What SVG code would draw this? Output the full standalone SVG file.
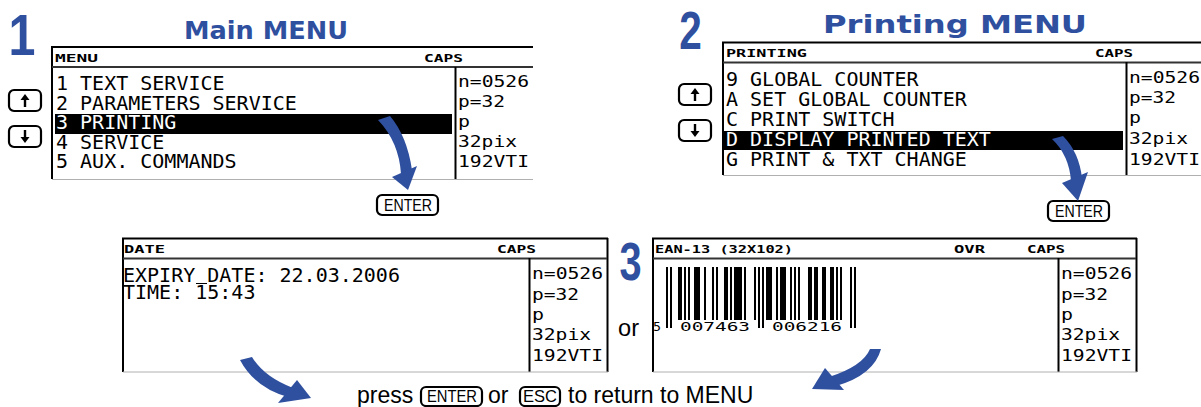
<svg xmlns="http://www.w3.org/2000/svg" xmlns:xlink="http://www.w3.org/1999/xlink" width="1201" height="407" viewBox="0 0 1201 407">
<style>
.ln{stroke:#000;stroke-width:2;fill:none}
.sep{stroke:#333;stroke-width:2;fill:none}
.bot{stroke:#b0b0b0;stroke-width:1;fill:none}
.lcd{font-family:"DejaVu Sans Mono",monospace;font-size:20px;fill:#000}
.inv{fill:#fff}
.side{font-family:"DejaVu Sans Mono",monospace;font-size:16px;fill:#000}
.hdr{font-family:"DejaVu Sans Mono",monospace;font-size:11px;font-weight:bold;fill:#000}
.bc{font-family:"DejaVu Sans Mono",monospace;font-size:12px;fill:#000}
.title{font-family:"DejaVu Sans",sans-serif;font-weight:bold;font-size:25px;fill:#2f4f9f}
.num{font-family:"Liberation Sans",sans-serif;font-weight:bold;fill:#2f4f9f}
.key{fill:#fff;stroke:#000;stroke-width:2.2}
.kt{font-family:"Liberation Sans",sans-serif;font-size:17px;fill:#000}
.foot{font-family:"Liberation Sans",sans-serif;font-size:23px;fill:#000}
.arr{fill:#2f4f9f}
</style>
<defs>
<g id="kUp"><rect class="key" x="0" y="0" width="32" height="21" rx="5"/><line x1="16" y1="17" x2="16" y2="8" stroke="#000" stroke-width="2.4"/><polygon points="11.5,10 20.5,10 16,4" fill="#000"/></g>
<g id="kDown"><rect class="key" x="0" y="0" width="32" height="21" rx="5"/><line x1="16" y1="4" x2="16" y2="13" stroke="#000" stroke-width="2.4"/><polygon points="11.5,11 20.5,11 16,17" fill="#000"/></g>
<g id="kEnter"><rect class="key" x="0" y="0" width="61" height="20" rx="5"/><text class="kt" x="7" y="16" textLength="48" lengthAdjust="spacingAndGlyphs">ENTER</text></g>
</defs>

<g id="title-main">
<text class="num" font-size="57" transform="translate(22,55) scale(0.85,1)" text-anchor="middle">1</text>
<text class="title" x="184" y="39" textLength="164" lengthAdjust="spacingAndGlyphs">Main MENU</text>
</g>

<g id="screen-main">
<line class="ln" x1="51" y1="47" x2="533" y2="47"/>
<line class="ln" x1="52" y1="46" x2="52" y2="179"/>
<line class="sep" x1="52" y1="67" x2="533" y2="67"/>
<line class="ln" x1="455.5" y1="67" x2="455.5" y2="179"/>
<line class="bot" x1="52" y1="179.5" x2="533" y2="179.5"/>
<text class="hdr" x="55" y="62" textLength="43" lengthAdjust="spacingAndGlyphs">MENU</text>
<text class="hdr" x="424" y="62" textLength="39" lengthAdjust="spacingAndGlyphs">CAPS</text>
<rect x="55" y="114" width="397" height="20" fill="#000"/>
<text class="lcd" x="56" y="90">1 TEXT SERVICE</text>
<text class="lcd" x="56" y="109.5">2 PARAMETERS SERVICE</text>
<text class="lcd inv" x="56" y="129">3 PRINTING</text>
<text class="lcd" x="56" y="148.5">4 SERVICE</text>
<text class="lcd" x="56" y="168">5 AUX. COMMANDS</text>
<text class="side" x="458" y="87" textLength="71" lengthAdjust="spacingAndGlyphs">n=0526</text>
<text class="side" x="458" y="107" textLength="47" lengthAdjust="spacingAndGlyphs">p=32</text>
<text class="side" x="458" y="127" textLength="12" lengthAdjust="spacingAndGlyphs">p</text>
<text class="side" x="458" y="147" textLength="59" lengthAdjust="spacingAndGlyphs">32pix</text>
<text class="side" x="458" y="167" textLength="71" lengthAdjust="spacingAndGlyphs">192VTI</text>
</g>

<g id="keys-main">
<use xlink:href="#kUp" x="9" y="90"/>
<use xlink:href="#kDown" x="9" y="126"/>
<use xlink:href="#kEnter" x="377" y="195"/>
</g>

<g id="title-printing">
<text class="num" font-size="54" transform="translate(690.5,49) scale(0.75,1)" text-anchor="middle">2</text>
<text class="title" x="823" y="33" textLength="264" lengthAdjust="spacingAndGlyphs">Printing MENU</text>
</g>

<g id="screen-printing">
<line class="ln" x1="722" y1="42.5" x2="1201" y2="42.5"/>
<line class="ln" x1="723" y1="42" x2="723" y2="175"/>
<line class="sep" x1="723" y1="62.5" x2="1201" y2="62.5"/>
<line class="ln" x1="1126.5" y1="62" x2="1126.5" y2="175"/>
<line class="bot" x1="723" y1="175.5" x2="1201" y2="175.5"/>
<text class="hdr" x="726" y="57" textLength="81" lengthAdjust="spacingAndGlyphs">PRINTING</text>
<text class="hdr" x="1095" y="57" textLength="38" lengthAdjust="spacingAndGlyphs">CAPS</text>
<rect x="724" y="131" width="399" height="19" fill="#000"/>
<text class="lcd" x="726" y="86">9 GLOBAL COUNTER</text>
<text class="lcd" x="726" y="106">A SET GLOBAL COUNTER</text>
<text class="lcd" x="726" y="126">C PRINT SWITCH</text>
<text class="lcd inv" x="726" y="146">D DISPLAY PRINTED TEXT</text>
<text class="lcd" x="726" y="166">G PRINT &amp; TXT CHANGE</text>
<text class="side" x="1129" y="83" textLength="71" lengthAdjust="spacingAndGlyphs">n=0526</text>
<text class="side" x="1129" y="103" textLength="47" lengthAdjust="spacingAndGlyphs">p=32</text>
<text class="side" x="1129" y="123" textLength="12" lengthAdjust="spacingAndGlyphs">p</text>
<text class="side" x="1129" y="144" textLength="59" lengthAdjust="spacingAndGlyphs">32pix</text>
<text class="side" x="1129" y="165" textLength="71" lengthAdjust="spacingAndGlyphs">192VTI</text>
</g>

<g id="keys-printing">
<use xlink:href="#kUp" x="679" y="84"/>
<use xlink:href="#kDown" x="679" y="120"/>
<use xlink:href="#kEnter" x="1048" y="201"/>
</g>

<g id="screen-date">
<line class="ln" x1="122" y1="238.5" x2="608" y2="238.5"/>
<line class="ln" x1="123" y1="238" x2="123" y2="372"/>
<line class="ln" x1="607.5" y1="238" x2="607.5" y2="372"/>
<line class="sep" x1="123" y1="258.5" x2="607" y2="258.5"/>
<line class="ln" x1="529.5" y1="258" x2="529.5" y2="372"/>
<line class="bot" x1="123" y1="372" x2="608" y2="372"/>
<text class="hdr" x="124" y="253" textLength="41" lengthAdjust="spacingAndGlyphs">DATE</text>
<text class="hdr" x="497" y="253" textLength="39" lengthAdjust="spacingAndGlyphs">CAPS</text>
<text class="lcd" x="123" y="282">EXPIRY DATE: 22.03.2006</text>
<line x1="196" y1="283.5" x2="207" y2="283.5" stroke="#000" stroke-width="1"/>
<text class="lcd" x="123" y="299">TIME: 15:43</text>
<text class="side" x="532" y="279" textLength="71" lengthAdjust="spacingAndGlyphs">n=0526</text>
<text class="side" x="532" y="300" textLength="47" lengthAdjust="spacingAndGlyphs">p=32</text>
<text class="side" x="532" y="320" textLength="12" lengthAdjust="spacingAndGlyphs">p</text>
<text class="side" x="532" y="340" textLength="59" lengthAdjust="spacingAndGlyphs">32pix</text>
<text class="side" x="532" y="361" textLength="71" lengthAdjust="spacingAndGlyphs">192VTI</text>
</g>

<g id="or-label">
<text class="num" font-size="53" transform="translate(630.5,280) scale(0.75,1)" text-anchor="middle">3</text>
<text class="foot" x="618" y="336" font-size="26" textLength="21" lengthAdjust="spacingAndGlyphs">or</text>
</g>

<g id="screen-ean">
<line class="ln" x1="652" y1="238.5" x2="1137" y2="238.5"/>
<line class="ln" x1="653" y1="238" x2="653" y2="372"/>
<line class="ln" x1="1136.5" y1="238" x2="1136.5" y2="372"/>
<line class="sep" x1="653" y1="258.5" x2="1136" y2="258.5"/>
<line class="ln" x1="1058.5" y1="258" x2="1058.5" y2="372"/>
<line class="bot" x1="653" y1="372" x2="1137" y2="372"/>
<text class="hdr" x="655" y="253" textLength="138" lengthAdjust="spacingAndGlyphs">EAN-13 (32X102)</text>
<text class="hdr" x="954" y="253" textLength="31" lengthAdjust="spacingAndGlyphs">OVR</text>
<text class="hdr" x="1027" y="253" textLength="38" lengthAdjust="spacingAndGlyphs">CAPS</text>
<g id="barcode" fill="#000">
<rect x="666" y="267" width="2" height="61"/>
<rect x="670" y="267" width="2" height="61"/>
<rect x="678" y="267" width="4" height="53"/>
<rect x="684" y="267" width="2" height="53"/>
<rect x="688" y="267" width="2" height="53"/>
<rect x="694" y="267" width="6" height="53"/>
<rect x="704" y="267" width="2" height="53"/>
<rect x="712" y="267" width="2" height="53"/>
<rect x="716" y="267" width="2" height="53"/>
<rect x="724" y="267" width="4" height="53"/>
<rect x="730" y="267" width="2" height="53"/>
<rect x="734" y="267" width="8" height="53"/>
<rect x="744" y="267" width="2" height="53"/>
<rect x="754" y="267" width="2" height="53"/>
<rect x="758" y="267" width="2" height="61"/>
<rect x="762" y="267" width="2" height="61"/>
<rect x="766" y="267" width="6" height="53"/>
<rect x="776" y="267" width="2" height="53"/>
<rect x="780" y="267" width="6" height="53"/>
<rect x="790" y="267" width="2" height="53"/>
<rect x="794" y="267" width="2" height="53"/>
<rect x="798" y="267" width="2" height="53"/>
<rect x="808" y="267" width="4" height="53"/>
<rect x="814" y="267" width="4" height="53"/>
<rect x="822" y="267" width="4" height="53"/>
<rect x="830" y="267" width="4" height="53"/>
<rect x="836" y="267" width="2" height="53"/>
<rect x="840" y="267" width="2" height="53"/>
<rect x="850" y="267" width="2" height="61"/>
<rect x="854" y="267" width="2" height="61"/>
</g>
<text class="bc" x="653" y="331" textLength="8" lengthAdjust="spacingAndGlyphs">5</text>
<text class="bc" x="680" y="331" textLength="70" lengthAdjust="spacingAndGlyphs">007463</text>
<text class="bc" x="772" y="331" textLength="70" lengthAdjust="spacingAndGlyphs">006216</text>
<text class="side" x="1061" y="279" textLength="71" lengthAdjust="spacingAndGlyphs">n=0526</text>
<text class="side" x="1061" y="300" textLength="47" lengthAdjust="spacingAndGlyphs">p=32</text>
<text class="side" x="1061" y="320" textLength="12" lengthAdjust="spacingAndGlyphs">p</text>
<text class="side" x="1061" y="340" textLength="59" lengthAdjust="spacingAndGlyphs">32pix</text>
<text class="side" x="1061" y="361" textLength="71" lengthAdjust="spacingAndGlyphs">192VTI</text>
</g>

<g id="footer">
<text class="foot" x="357" y="403">press</text>
<rect class="key" x="421" y="387" width="61" height="19" rx="5"/>
<text class="kt" x="427" y="402" textLength="50" lengthAdjust="spacingAndGlyphs">ENTER</text>
<text class="foot" x="488" y="403">or</text>
<rect class="key" x="520" y="387" width="40" height="19" rx="5"/>
<text class="kt" x="523" y="402" textLength="34" lengthAdjust="spacingAndGlyphs">ESC</text>
<text class="foot" x="568" y="403">to return to MENU</text>
</g>

<g id="connectors">
<g id="arrow-main-enter" class="arr"><path d="M378,120 L390,116 Q407,136 412,170 L401,174 Q399,142 378,120 Z"/><polygon points="392,177 417,166 408,190"/></g>
<g id="arrow-printing-enter" class="arr"><path d="M1052,139 L1063,136 Q1079,152 1082,178 L1071,181 Q1069,155 1052,139 Z"/><polygon points="1062,183 1088,172 1078,201"/></g>
<g id="arrow-date-return" class="arr"><path d="M240,360 L252,357 Q264,377 293,388 L288,397 Q255,388 240,360 Z"/><polygon points="297,380 278,403 311,398"/></g>
<g id="arrow-ean-return" class="arr"><path d="M870,349 L881,349 Q874,375 836,386 L829,377 Q863,366 870,349 Z"/><polygon points="825,368 812,389 844,390"/></g>
</g>
</svg>
